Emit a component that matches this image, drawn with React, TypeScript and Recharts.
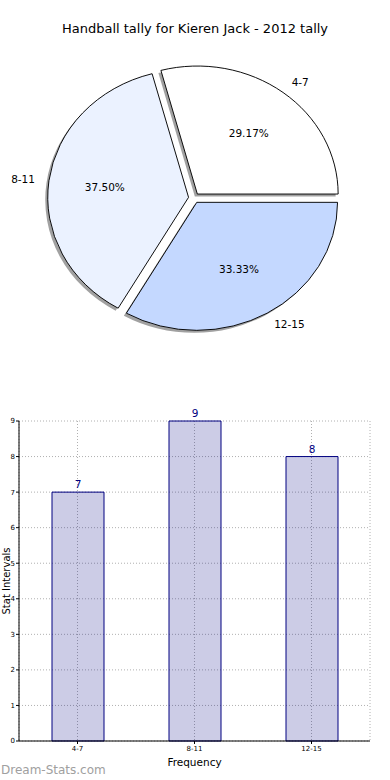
import { PieChart, Pie, Sector, BarChart, Bar, XAxis, YAxis, CartesianGrid, LabelList } from 'recharts';

const CATEGORIES = ['4-7', '8-11', '12-15'];
const TALLIES = [7, 9, 8];
const Y_TICKS = [0, 1, 2, 3, 4, 5, 6, 7, 8, 9];
const SLICE_COLORS = ['#ffffff', '#ebf2ff', '#c4d8ff'];

const TITLE = 'Handball tally for Kieren Jack - 2012 tally';
const FONT = '"DejaVu Sans", sans-serif';

// matplotlib-ish pie: slightly stretched horizontally, exploded, with drop shadow
const SX = 1.1;
const EXPLODE = 5;

const pieData = CATEGORIES.map((name, i) => ({ name, value: TALLIES[i] }));
const barData = CATEGORIES.map((category, i) => ({ category, value: TALLIES[i] }));

function wedgeFrame(p: any, shiftX = 0, shiftY = 0) {
  const rad = (p.midAngle * Math.PI) / 180;
  const ex = p.cx + EXPLODE * Math.cos(rad) * SX + shiftX;
  const ey = p.cy - EXPLODE * Math.sin(rad) + shiftY;
  return { rad, ex, ey };
}

const renderShadow = (p: any) => {
  const { ex, ey } = wedgeFrame(p, -2.5, 2.5);
  return (
    <g key={`shadow-${p.index}`} transform={`translate(${ex} ${ey}) scale(${SX} 1) translate(${-p.cx} ${-p.cy})`}>
      <Sector
        cx={p.cx}
        cy={p.cy}
        innerRadius={0}
        outerRadius={p.outerRadius}
        startAngle={p.startAngle}
        endAngle={p.endAngle}
        fill="#444444"
        fillOpacity={0.5}
        stroke="none"
      />
    </g>
  );
};

const renderWedge = (p: any) => {
  const { rad, ex, ey } = wedgeFrame(p);
  const at = (rho: number) => ({ x: ex + SX * rho * Math.cos(rad), y: ey - rho * Math.sin(rad) });
  const lab = at(1.1 * p.outerRadius);
  const pct = at(0.6 * p.outerRadius);
  return (
    <g key={`wedge-${p.index}`}>
      <g transform={`translate(${ex} ${ey}) scale(${SX} 1) translate(${-p.cx} ${-p.cy})`}>
        <Sector
          cx={p.cx}
          cy={p.cy}
          innerRadius={0}
          outerRadius={p.outerRadius}
          startAngle={p.startAngle}
          endAngle={p.endAngle}
          fill={SLICE_COLORS[p.index]}
          stroke="#000"
          strokeWidth={0.9}
        />
      </g>
      <text x={pct.x} y={pct.y} textAnchor="middle" dominantBaseline="central" fontSize={10.5} fontFamily={FONT} fill="#000">
        {(p.percent * 100).toFixed(2)}%
      </text>
      <text
        x={lab.x}
        y={lab.y}
        textAnchor={Math.cos(rad) >= 0 ? 'start' : 'end'}
        dominantBaseline="central"
        fontSize={10.5}
        fontFamily={FONT}
        fill="#000"
      >
        {p.name}
      </text>
    </g>
  );
};

const YLabel = (props: any) => {
  const { x, y, height } = props.viewBox;
  const lx = x + 6;
  const ly = y + height / 2;
  return (
    <text x={lx} y={ly} transform={`rotate(-90 ${lx} ${ly})`} textAnchor="middle" dominantBaseline="central" fontSize={10} fontFamily={FONT} fill="#000">
      Stat Intervals
    </text>
  );
};

export default function App() {
  return (
    <div style={{ position: 'absolute', left: 0, top: 0, width: 390, height: 780, background: '#fff', fontFamily: FONT }}>
      <div style={{ position: 'absolute', left: 0, top: 21, width: 390, textAlign: 'center', fontSize: 13, color: '#000' }}>
        {TITLE}
      </div>

      <div style={{ position: 'absolute', left: 0, top: 0 }}>
        <PieChart width={390} height={370} margin={{ top: 0, right: 0, bottom: 0, left: 0 }}>
          <Pie
            data={pieData}
            dataKey="value"
            nameKey="name"
            cx={194}
            cy={198}
            outerRadius={128}
            startAngle={0}
            endAngle={360}
            fill="transparent"
            stroke="none"
            labelLine={false}
            label={renderShadow}
            isAnimationActive={false}
          />
          <Pie
            data={pieData}
            dataKey="value"
            nameKey="name"
            cx={194}
            cy={198}
            outerRadius={128}
            startAngle={0}
            endAngle={360}
            fill="transparent"
            stroke="none"
            labelLine={false}
            label={renderWedge}
            isAnimationActive={false}
          />
        </PieChart>
      </div>

      <div style={{ position: 'absolute', left: 0, top: 400 }}>
        <BarChart width={390} height={380} data={barData} margin={{ top: 21, right: 20, bottom: 0, left: 0 }} barSize={52}>
          <CartesianGrid stroke="#b0b0b0" strokeDasharray="1 2" />
          <XAxis
            dataKey="category"
            height={39}
            axisLine={{ stroke: '#000' }}
            tickLine={{ stroke: '#000' }}
            tickSize={3}
            tickMargin={2}
            tick={{ fontSize: 7, fill: '#000', fontFamily: FONT }}
            label={{ value: 'Frequency', position: 'insideBottom', offset: 14, fontSize: 10.5, fill: '#000', fontFamily: FONT }}
          />
          <XAxis xAxisId="top" orientation="top" dataKey="category" height={0} tick={false} tickLine={false} axisLine={{ stroke: '#000' }} />
          <YAxis
            width={19}
            domain={[0, 9]}
            ticks={Y_TICKS}
            axisLine={{ stroke: '#000' }}
            tickLine={{ stroke: '#000' }}
            tickSize={3}
            tickMargin={1}
            tick={{ fontSize: 7, fill: '#000', fontFamily: FONT }}
            label={<YLabel />}
          />
          <YAxis yAxisId="right" orientation="right" width={0} domain={[0, 9]} tick={false} tickLine={false} axisLine={{ stroke: '#000' }} />
          <Bar dataKey="value" fill="#000080" fillOpacity={0.2} stroke="#000080" strokeWidth={1} isAnimationActive={false}>
            <LabelList dataKey="value" position="top" offset={4} fill="#000080" fontSize={10.5} fontFamily={FONT} />
          </Bar>
        </BarChart>
      </div>

      <div style={{ position: 'absolute', left: 1, top: 763, fontSize: 12, color: '#a0a0a0', fontFamily: FONT }}>
        Dream-Stats.com
      </div>
    </div>
  );
}
